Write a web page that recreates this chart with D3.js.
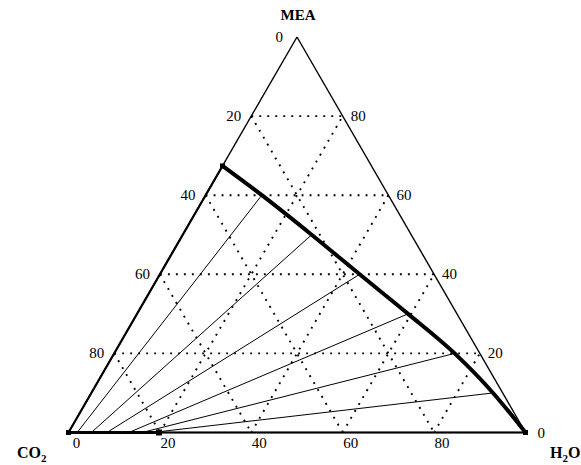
<!DOCTYPE html>
<html>
<head>
<meta charset="utf-8">
<script src="https://cdn.jsdelivr.net/npm/d3@7"></script>
<style>
  html, body { margin: 0; padding: 0; background: #fff; }
  svg { display: block; }
  text { font-family: "Liberation Serif", "Times New Roman", serif; fill: #000; }
</style>
</head>
<body>
<svg id="chart" width="581" height="465"></svg>
<script>
// Ternary diagram MEA (top) – CO2 (bottom left) – H2O (bottom right), values in %.

// Grid levels and tick labels along each edge
const gridLevels = [20, 40, 60, 80];
const co2Ticks = [0, 20, 40, 60, 80];   // left edge, CO2 %
const meaTicks = [0, 20, 40, 60, 80];   // right edge, MEA %
const h2oTicks = [0, 20, 40, 60, 80];   // bottom edge, H2O %

// Phase boundary (MEA %, H2O %)
const boundaryMEA = [67.4, 60, 50, 40, 30, 20, 10, 0];
const boundaryH2O = [0, 12.3, 28.2, 43.7, 59.3, 74.5, 87.9, 100];

// Tie lines: start on the CO2–H2O edge (H2O %), end at boundary point of same index
const tieStartH2O = [0, 1.9, 5.0, 8.4, 13.2, 16.1, 18.3, 19.8];

const svg = d3.select("#chart");

// Position scales: horizontal uses H2O + MEA/2, vertical uses MEA
const xs = d3.scaleLinear().domain([0, 100]).range([68.5, 525.5]);
const ys = d3.scaleLinear().domain([0, 100]).range([432.5, 37]);
const proj = (mea, h2o) => [xs(h2o + mea / 2), ys(mea)];

const line = d3.line();

// Dotted grid
const grid = svg.append("g")
  .attr("fill", "none").attr("stroke", "#000")
  .attr("stroke-width", 1.9).attr("stroke-dasharray", "1.9 6.1");
gridLevels.forEach(v => {
  // constant MEA
  grid.append("path").attr("d", line([proj(v, 0), proj(v, 100 - v)]));
  // constant H2O
  grid.append("path").attr("d", line([proj(0, v), proj(100 - v, v)]));
  // constant CO2 (c = v)
  grid.append("path").attr("d", line([proj(100 - v, 0), proj(0, 100 - v)]));
});

// Triangle edges
const CO2 = proj(0, 0), H2O = proj(0, 100), MEA = proj(100, 0);
svg.append("path").attr("d", line([MEA, CO2]))
  .attr("stroke", "#000").attr("stroke-width", 1.4).attr("fill", "none");
svg.append("path").attr("d", line([MEA, H2O]))
  .attr("stroke", "#000").attr("stroke-width", 1.4).attr("fill", "none");
svg.append("path").attr("d", line([CO2, H2O]))
  .attr("stroke", "#3a3a3a").attr("stroke-width", 2.3).attr("fill", "none");

// Tie lines
const ties = tieStartH2O.map((h, i) => [proj(0, h), proj(boundaryMEA[i], boundaryH2O[i])]);
svg.append("g").selectAll("path").data(ties).join("path")
  .attr("d", d => line(d))
  .attr("fill", "none").attr("stroke", "#000")
  .attr("stroke-width", (d, i) => i === 0 ? 2.2 : 1);

// Solid-side segment along the base
svg.append("path")
  .attr("d", line([proj(0, 0), proj(0, tieStartH2O[tieStartH2O.length - 1])]))
  .attr("stroke", "#000").attr("stroke-width", 3.2).attr("fill", "none");

// Phase boundary
const boundary = boundaryMEA.map((m, i) => proj(m, boundaryH2O[i]));
svg.append("path").attr("d", d3.line().curve(d3.curveMonotoneX)(boundary))
  .attr("fill", "none").attr("stroke", "#000").attr("stroke-width", 4)
  .attr("stroke-linejoin", "round");

// Markers
const markers = tieStartH2O.map((h, i) => ({ p: proj(0, h), s: i === tieStartH2O.length - 1 ? 6 : (i === 0 ? 5 : 3) }));
markers.push({ p: boundary[0], s: 5 });
markers.push({ p: boundary[boundary.length - 1], s: 5 });
svg.append("g").selectAll("rect").data(markers).join("rect")
  .attr("x", d => d.p[0] - d.s / 2).attr("y", d => d.p[1] - d.s / 2)
  .attr("width", d => d.s).attr("height", d => d.s).attr("fill", "#000");

// Tick labels
const fs = 15;
svg.append("g").selectAll("text").data(co2Ticks).join("text")
  .attr("x", d => proj(100 - d, 0)[0] - (d === 0 ? 14 : 10))
  .attr("y", d => proj(100 - d, 0)[1] + 5)
  .attr("text-anchor", "end").attr("font-size", fs).text(d => d);
svg.append("g").selectAll("text").data(meaTicks).join("text")
  .attr("x", d => proj(d, 100 - d)[0] + 8 + (d === 0 ? 4 : 0))
  .attr("y", d => proj(d, 100 - d)[1] + 5)
  .attr("text-anchor", "start").attr("font-size", fs).text(d => d);
svg.append("g").selectAll("text").data(h2oTicks).join("text")
  .attr("x", d => proj(0, d)[0] + 8)
  .attr("y", d => proj(0, d)[1] + 15)
  .attr("text-anchor", "middle").attr("font-size", fs).text(d => d);

// Component names
svg.append("text").attr("x", MEA[0] + 1).attr("y", 20)
  .attr("text-anchor", "middle").attr("font-size", 15).attr("font-weight", "bold").text("MEA");

const co2 = svg.append("text").attr("x", 17).attr("y", 458)
  .attr("font-size", 16).attr("font-weight", "bold");
co2.append("tspan").text("CO");
co2.append("tspan").attr("dy", 4).attr("font-size", 11).text("2");

const h2o = svg.append("text").attr("x", 550).attr("y", 458)
  .attr("font-size", 16).attr("font-weight", "bold");
h2o.append("tspan").text("H");
h2o.append("tspan").attr("dy", 4).attr("font-size", 11).text("2");
h2o.append("tspan").attr("dy", -4).text("O");
</script>
</body>
</html>
